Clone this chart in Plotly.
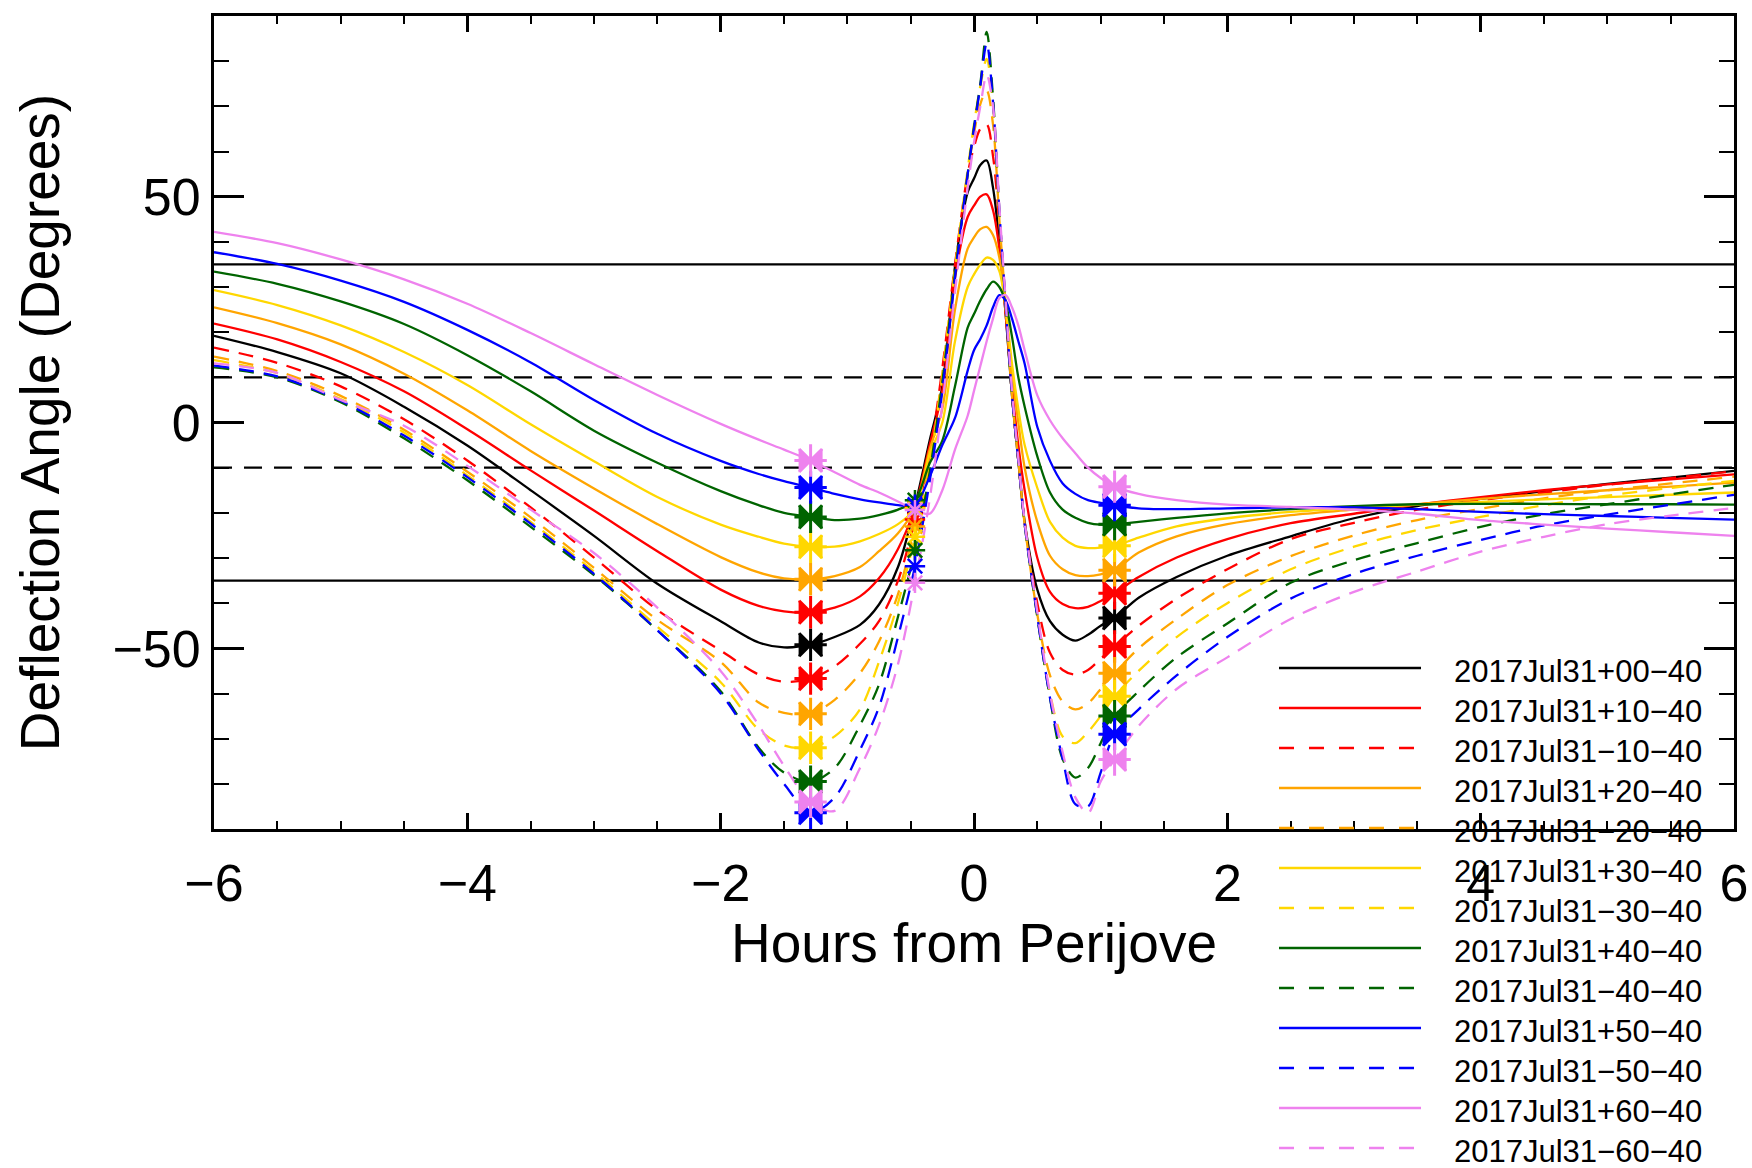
import plotly.graph_objects as go

# ---------------- data (hours from perijove, deflection angle in degrees) ----------------
T = [-6, -5.5, -5, -4.5, -4, -3.5, -3, -2.5, -2, -1.7, -1.5, -1.29, -1.1, -0.9, -0.75, -0.6, -0.466,
     -0.35, -0.25, -0.15, -0.05, 0.0, 0.05, 0.1, 0.15, 0.2, 0.25, 0.3, 0.35, 0.4,
     0.5, 0.6, 0.7, 0.8, 0.9, 1.0, 1.11, 1.3, 1.6, 2.0, 2.5, 3.0, 3.5, 4.0, 4.5, 5.0, 5.5, 6.0]

p00 = [19.2, 15.6, 10.9, 3.5, -5.1, -15.0, -25.1, -35.7, -44.0, -48.7, -49.8, -49.2, -47.5, -44.8, -40.3, -32.0, -18.5,
       -4.0, 8.0, 34.5, 51.0, 54.0, 57.0, 58.0, 52.0, 40.0, 24.0, 6.0, -8.5, -22.0,
       -37.0, -44.0, -47.0, -48.3, -47.0, -45.0, -43.3, -38.8, -34.2, -29.5, -25.2, -21.2, -18.5, -16.9, -15.2, -13.6, -12.2, -10.7]
p10 = [21.9, 18.4, 13.4, 6.9, -1.5, -10.6, -19.5, -28.5, -37.0, -40.6, -41.8, -42.0, -41.0, -38.5, -34.5, -28.0, -18.8,
       -5.0, 7.0, 32.0, 45.5, 48.0, 50.0, 50.5, 47.0, 38.5, 24.0, 8.0, -5.0, -15.0,
       -30.0, -37.5, -40.2, -41.1, -40.8, -39.5, -37.8, -34.2, -29.9, -25.8, -22.3, -20.2, -18.2, -16.5, -15.0, -13.7, -12.6, -11.5]
m10 = [16.6, 13.2, 8.0, 0.7, -8.4, -18.8, -29.9, -41.5, -50.5, -55.8, -57.4, -56.7, -54.0, -49.0, -44.0, -35.0, -21.5,
       -7.0, 12.0, 35.0, 55.0, 61.0, 65.0, 66.0, 59.0, 44.0, 25.0, 6.0, -8.5, -22.0,
       -40.0, -51.0, -54.8, -55.8, -54.8, -52.3, -49.6, -45.0, -39.0, -32.5, -25.8, -22.2, -19.3, -17.2, -15.5, -13.8, -12.3, -10.8]
p20 = [25.5, 22.0, 17.3, 10.8, 2.7, -6.3, -14.6, -22.5, -29.8, -33.2, -34.5, -34.7, -34.0, -32.0, -28.5, -24.5, -19.0,
       -6.0, 3.0, 25.0, 38.5, 41.0, 42.8, 43.3, 41.5, 36.5, 25.0, 11.0, 0.0, -10.0,
       -22.0, -29.5, -32.5, -33.8, -34.0, -33.6, -32.7, -28.8, -25.2, -22.5, -20.5, -19.3, -18.1, -16.9, -15.9, -15.0, -14.2, -13.3]
m20 = [14.6, 11.4, 5.9, -1.6, -10.9, -21.0, -32.2, -43.7, -53.0, -62.0, -64.3, -64.5, -61.4, -55.5, -48.5, -38.0, -23.0,
       -9.0, 11.0, 34.0, 55.0, 64.0, 70.5, 73.5, 66.0, 45.0, 26.0, 6.0, -8.5, -22.5,
       -42.5, -56.0, -61.8, -63.5, -62.2, -59.0, -55.5, -50.0, -43.5, -36.0, -29.6, -25.0, -21.6, -19.1, -16.8, -15.0, -13.5, -12.0]
p30 = [29.3, 26.0, 21.5, 15.6, 8.3, -0.4, -8.6, -16.5, -22.6, -25.3, -26.8, -27.5, -27.5, -26.3, -24.7, -22.5, -19.0,
       -7.0, 0.0, 18.0, 30.0, 32.8, 35.0, 36.5, 36.0, 33.5, 25.5, 13.0, 3.0, -5.0,
       -14.5, -22.0, -25.5, -27.3, -27.8, -27.7, -27.3, -25.5, -23.0, -21.2, -19.8, -19.0, -18.2, -17.6, -17.0, -16.5, -16.0, -15.5]
m30 = [13.8, 10.9, 5.2, -2.2, -11.7, -22.0, -33.0, -45.2, -57.5, -68.0, -71.5, -72.0, -69.5, -63.5, -53.0, -40.0, -25.3,
       -10.0, 10.0, 34.0, 56.0, 66.0, 74.5, 80.5, 70.0, 46.0, 26.0, 6.0, -8.5, -22.5,
       -43.0, -60.0, -69.5, -71.0, -68.5, -65.0, -60.6, -55.0, -47.5, -40.0, -32.5, -27.5, -23.8, -20.9, -18.3, -16.2, -14.5, -12.9]
p40 = [33.4, 30.7, 26.8, 21.8, 14.9, 6.9, -1.8, -8.9, -15.2, -18.3, -20.0, -20.9, -21.6, -21.3, -20.5, -19.3, -17.2,
       -9.0, -4.0, 8.0, 21.0, 24.0, 27.0, 29.5, 31.2, 30.0, 26.5, 19.0, 10.0, 3.5,
       -7.5, -15.5, -19.3, -21.1, -22.2, -22.6, -22.5, -22.0, -21.1, -20.1, -19.2, -18.5, -18.1, -18.0, -18.0, -18.1, -18.1, -18.2]
m40 = [12.2, 10.0, 4.5, -3.5, -12.8, -23.1, -33.8, -46.0, -59.5, -72.0, -77.5, -79.5, -76.5, -67.0, -58.0, -43.0, -28.3,
       -11.0, 9.0, 33.0, 55.0, 65.5, 75.0, 86.5, 72.0, 47.0, 26.0, 6.0, -8.5, -22.5,
       -43.0, -61.0, -74.5, -78.6, -76.5, -71.0, -65.0, -59.5, -52.0, -44.5, -35.5, -30.5, -26.7, -23.1, -20.3, -18.1, -15.9, -13.8]
p50 = [37.7, 35.1, 31.4, 26.7, 20.5, 13.3, 5.0, -2.5, -8.5, -11.4, -13.0, -14.4, -15.8, -17.0, -17.7, -18.3, -18.2,
       -12.0, -5.0, 1.0, 11.5, 16.0, 18.5, 21.5, 25.5, 28.2, 27.0, 23.0, 18.0, 13.0,
       -1.0, -8.5, -13.5, -15.8, -17.2, -17.8, -18.3, -19.0, -19.2, -19.0, -18.8, -18.8, -19.2, -19.8, -20.3, -20.7, -21.1, -21.5]
m50 = [12.6, 10.2, 4.8, -2.9, -12.1, -22.4, -33.5, -46.0, -60.0, -72.5, -80.0, -86.4, -83.0, -72.5, -63.0, -47.5, -31.8,
       -13.0, 7.0, 32.0, 55.0, 65.0, 74.5, 84.0, 71.0, 47.0, 26.0, 6.0, -8.5, -22.5,
       -43.0, -61.0, -74.5, -84.5, -85.0, -77.5, -69.0, -63.5, -56.0, -47.5, -39.0, -33.5, -29.5, -26.0, -22.8, -20.4, -18.2, -16.0]
p60 = [42.2, 39.7, 36.1, 31.7, 26.3, 19.8, 12.9, 6.1, -0.3, -3.8, -6.0, -8.4, -11.0, -13.8, -15.5, -17.5, -19.4,
       -20.2, -15.0, -6.0, 1.5, 7.0, 12.5, 18.0, 23.0, 27.5, 28.2, 25.5, 21.5, 16.0,
       6.0, 0.5, -3.5, -6.8, -10.0, -12.3, -14.2, -15.8, -17.2, -18.2, -18.7, -19.3, -20.2, -21.6, -22.6, -23.5, -24.3, -25.1]
m60 = [13.1, 11.0, 5.0, -0.7, -9.6, -19.3, -28.9, -41.0, -55.0, -67.0, -76.0, -84.0, -86.0, -76.5, -67.0, -53.5, -35.5,
       -17.0, 4.0, 29.0, 52.0, 62.0, 70.0, 77.0, 70.0, 48.0, 27.0, 7.0, -8.0, -22.0,
       -42.0, -60.0, -73.0, -83.0, -86.5, -79.5, -74.6, -67.2, -59.0, -52.0, -43.5, -37.5, -33.0, -28.6, -25.3, -22.5, -20.6, -18.9]

series_names = ["2017Jul31+00\u221240", "2017Jul31+10\u221240", "2017Jul31\u221210\u221240",
                "2017Jul31+20\u221240", "2017Jul31\u221220\u221240", "2017Jul31+30\u221240",
                "2017Jul31\u221230\u221240", "2017Jul31+40\u221240", "2017Jul31\u221240\u221240",
                "2017Jul31+50\u221240", "2017Jul31\u221250\u221240", "2017Jul31+60\u221240",
                "2017Jul31\u221260\u221240"]
series_values = [p00, p10, m10, p20, m20, p30, m30, p40, m40, p50, m50, p60, m60]
series_colors = ["#000000", "#FF0000", "#FF0000", "#FFA500", "#FFA500", "#FFD700", "#FFD700",
                 "#006400", "#006400", "#0000FF", "#0000FF", "#EE82EE", "#EE82EE"]
series_dashed = [False, False, True, False, True, False, True, False, True, False, True, False, True]

big_marker_times = [-1.29, 1.11]
small_marker_times = [-0.466]
ref_solid = [35, -35]
ref_dashed = [10, -10]

x_ticks = [-6, -4, -2, 0, 2, 4, 6]
y_ticks = [-50, 0, 50]

# ---------------- figure ----------------
FONT = "Liberation Sans, Arial, Helvetica, sans-serif"
fig = go.Figure()

for name, vals, col, dsh in zip(series_names, series_values, series_colors, series_dashed):
    fig.add_trace(go.Scatter(
        x=T, y=vals, mode="lines", name=name, showlegend=False,
        line=dict(color=col, width=2.3, dash="15px,10px" if dsh else "solid",
                  shape="spline", smoothing=0.9)))

for name, vals, col in zip(series_names, series_values, series_colors):
    bx = [t for t in big_marker_times]
    by = [vals[T.index(t)] for t in big_marker_times]
    fig.add_trace(go.Scatter(x=bx, y=by, mode="markers", showlegend=False, hoverinfo="skip",
                             marker=dict(symbol="bowtie", size=24, color=col, line=dict(width=0))))
    fig.add_trace(go.Scatter(x=bx, y=by, mode="markers", showlegend=False, hoverinfo="skip",
                             marker=dict(symbol="asterisk-open", size=27, color=col,
                                         line=dict(width=3, color=col))))
    sx = [t for t in small_marker_times]
    sy = [vals[T.index(t)] for t in small_marker_times]
    fig.add_trace(go.Scatter(x=sx, y=sy, mode="markers", showlegend=False, hoverinfo="skip",
                             marker=dict(symbol="asterisk-open", size=17, color=col,
                                         line=dict(width=2.5, color=col))))

shapes = []
for yv in ref_solid:
    shapes.append(dict(type="line", xref="paper", x0=0, x1=1, yref="y", y0=yv, y1=yv,
                       line=dict(color="black", width=2.2), layer="below"))
for yv in ref_dashed:
    shapes.append(dict(type="line", xref="paper", x0=0, x1=1, yref="y", y0=yv, y1=yv,
                       line=dict(color="black", width=2.2, dash="18px,12px"), layer="below"))

# custom legend (long line samples as in the original)
annotations = []
PLOT_H = 813.0
for i, (name, col, dsh) in enumerate(zip(series_names, series_colors, series_dashed)):
    ypix = 668 + 40.0 * i
    yp = (829 - ypix) / PLOT_H
    shapes.append(dict(type="line", xref="paper", yref="paper",
                       x0=(1279 - 214) / 1520, x1=(1421 - 214) / 1520, y0=yp, y1=yp,
                       line=dict(color=col, width=2.3, dash="15px,15px" if dsh else "solid")))
    annotations.append(dict(xref="paper", yref="paper", x=(1452 - 214) / 1520, y=(829 - ypix - 3) / PLOT_H,
                            xanchor="left", yanchor="middle", text=name, showarrow=False,
                            font=dict(family=FONT, size=31, color="black")))

fig.update_layout(
    width=1752, height=1168,
    margin=dict(l=214, r=18, t=16, b=339, autoexpand=False),
    paper_bgcolor="white", plot_bgcolor="white",
    font=dict(family=FONT, color="black"),
    shapes=shapes, annotations=annotations,
    showlegend=False,
    xaxis=dict(range=[-6, 6], tickvals=x_ticks, ticks="inside", ticklen=16, tickwidth=2.5,
               tickcolor="black", showline=True, linewidth=3, linecolor="black", mirror="allticks",
               showgrid=False, zeroline=False, tickfont=dict(size=52, family=FONT),
               ticklabelstandoff=7, automargin=False,
               minor=dict(dtick=0.5, ticks="inside", ticklen=8, tickwidth=2, tickcolor="black"),
               title=dict(text="Hours from Perijove", font=dict(size=55, family=FONT), standoff=0)),
    yaxis=dict(range=[-90, 90], tickvals=y_ticks, ticks="inside", ticklen=30, tickwidth=2.5,
               tickcolor="black", showline=True, linewidth=3, linecolor="black", mirror="allticks",
               showgrid=False, zeroline=False, tickfont=dict(size=52, family=FONT),
               ticklabelstandoff=0, automargin=False,
               minor=dict(dtick=10, ticks="inside", ticklen=15, tickwidth=2, tickcolor="black"),
               title=dict(text="Deflection Angle (Degrees)", font=dict(size=55, family=FONT), standoff=36)),
)

fig.write_html("out.html", config={"displayModeBar": False},
               post_script="document.body.style.margin='0px';document.body.style.overflow='hidden';")
